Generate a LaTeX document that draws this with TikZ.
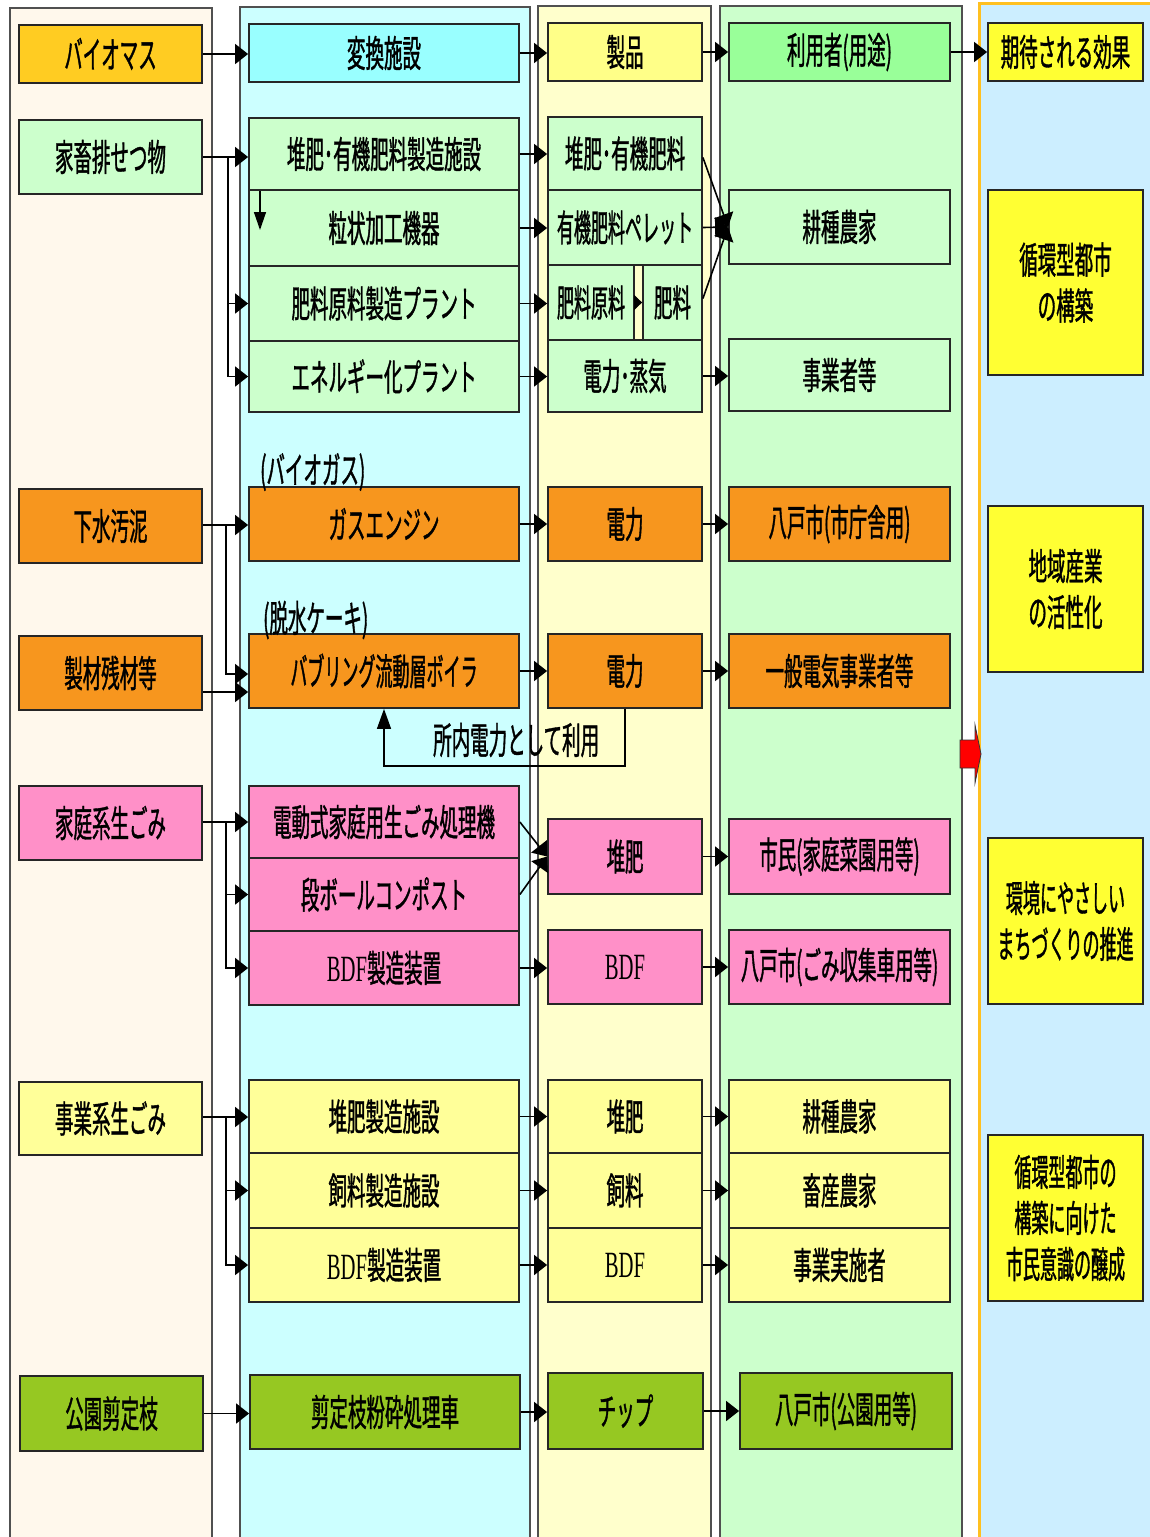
\documentclass[tikz,border=0pt]{standalone}
\usepackage{fontspec}
\newfontfamily\jp[FakeStretch=0.5,FakeBold=1]{Noto Sans CJK JP}
\newfontfamily\jpc[FakeStretch=0.46,FakeBold=1]{Noto Sans CJK JP}
\newfontfamily\bdf[FakeStretch=0.56]{Liberation Serif}
\usetikzlibrary{arrows.meta}
\definecolor{colA}{HTML}{FFF8EC}
\definecolor{colB}{HTML}{CCFFFF}
\definecolor{colC}{HTML}{FFFFCC}
\definecolor{colD}{HTML}{CCFFCC}
\definecolor{colE}{HTML}{CCEEFF}
\definecolor{edgeO}{HTML}{FFC020}
\definecolor{fBio}{HTML}{FFCC22}
\definecolor{fConv}{HTML}{99FFFF}
\definecolor{fProd}{HTML}{FFFF88}
\definecolor{fUser}{HTML}{99FF99}
\definecolor{fEff}{HTML}{FFFF33}
\definecolor{fLg}{HTML}{CCFFCC}
\definecolor{fOr}{HTML}{F7961E}
\definecolor{fPk}{HTML}{FF90C8}
\definecolor{fLy}{HTML}{FFFF99}
\definecolor{fPark}{HTML}{96C822}
\definecolor{colLine}{HTML}{505050}
\newcommand\bx[7]{\node[box,fill=#2,minimum width={(#5-#3)*1pt},minimum height={(#6-#4)*1pt}] (#1) at ({(#3+#5)/2},{(#4+#6)/2}) {#7};}
\begin{document}
\begin{tikzpicture}[x=1pt,y=-1pt,
  box/.style={draw=black!85,line width=1.8pt,inner sep=0pt,align=center,text=black,font=\jp\fontsize{37}{46}\selectfont},
  lbl/.style={inner sep=0pt,anchor=west,text=black,font=\jp\fontsize{37}{46}\selectfont},
  arr/.style={draw=black,line width=1.6pt,-{Triangle[length=13pt,width=20pt]}},
  arrs/.style={draw=black,line width=1.2pt,-{Triangle[length=8pt,width=15pt]}},
  darr/.style={draw=black,line width=1.4pt,-{Triangle[length=18pt,width=12pt]}},
  fb/.style={draw=black,line width=1.4pt,-{Triangle[length=20pt,width=14pt]}},
  colbg/.style={line width=1.4pt,draw=colLine}]
\useasboundingbox (0,0) rectangle (1150,1537);
\fill[white] (0,0) rectangle (1150,1537);
% column backgrounds
\fill[colA] (10,8) rectangle (212,1537);
\draw[colbg] (10,1537) -- (10,8) -- (212,8) -- (212,1537);
\fill[colB] (240,7) rectangle (530,1537);
\draw[colbg] (240,1537) -- (240,7) -- (530,7) -- (530,1537);
\fill[colC] (538,6) rectangle (711,1537);
\draw[colbg] (538,1537) -- (538,6) -- (711,6) -- (711,1537);
\fill[colD] (720,6) rectangle (962,1537);
\draw[colbg] (720,1537) -- (720,6) -- (962,6) -- (962,1537);
\fill[colE] (979,3) rectangle (1150,1537);
\draw[edgeO,line width=3pt] (979,1537) -- (979,3) -- (1150,3);
% header row
\bx{hB}{fBio}{19}{25}{202}{83}{バイオマス}
\bx{hC}{fConv}{249}{24}{519}{82}{変換施設}
\bx{hP}{fProd}{548}{23}{702}{81}{製品}
\bx{hU}{fUser}{729}{23}{950}{81}{利用者(用途)}
\bx{hE}{fEff}{988}{23}{1143}{81}{期待される効果}
% livestock
\bx{a1}{fLg}{19}{120}{202}{194}{家畜排せつ物}
\bx{c1}{fLg}{249}{118}{519}{190}{堆肥･有機肥料製造施設}
\bx{c2}{fLg}{249}{190}{519}{266}{粒状加工機器}
\bx{c3}{fLg}{249}{266}{519}{341}{肥料原料製造プラント}
\bx{c4}{fLg}{249}{341}{519}{412}{エネルギー化プラント}
\bx{p1}{fLg}{548}{117}{702}{190}{堆肥･有機肥料}
\bx{p2}{fLg}{548}{190}{702}{265}{\jpc 有機肥料ペレット}
\bx{p3a}{fLg}{548}{265}{634}{340}{\jpc 肥料原料}
\bx{p3b}{fLg}{643}{265}{702}{340}{肥料}
\bx{p4}{fLg}{548}{340}{702}{412}{電力･蒸気}
\bx{u1}{fLg}{729}{190}{950}{264}{耕種農家}
\bx{u2}{fLg}{729}{339}{950}{411}{事業者等}
\bx{e1}{fEff}{988}{190}{1143}{375}{循環型都市\\の構築}
% sewage / lumber
\bx{a2}{fOr}{19}{489}{202}{563}{下水汚泥}
\bx{c5}{fOr}{249}{487}{519}{561}{ガスエンジン}
\bx{p5}{fOr}{548}{487}{702}{561}{電力}
\bx{u3}{fOr}{729}{487}{950}{561}{八戸市(市庁舎用)}
\bx{a3}{fOr}{19}{636}{202}{710}{製材残材等}
\bx{c6}{fOr}{249}{634}{519}{708}{\jpc バブリング流動層ボイラ}
\bx{p6}{fOr}{548}{634}{702}{708}{電力}
\bx{u4}{fOr}{729}{634}{950}{708}{一般電気事業者等}
\bx{e2}{fEff}{988}{506}{1143}{672}{地域産業\\の活性化}
\node[lbl] (lbBio) at (260,472) {(バイオガス)};
\node[lbl] (lbCake) at (263,620) {(脱水ケーキ)};
\node[lbl] (lbOwn) at (433,740) {所内電力として利用};
% household
\bx{a4}{fPk}{19}{786}{202}{860}{家庭系生ごみ}
\bx{c7}{fPk}{249}{786}{519}{858}{電動式家庭用生ごみ処理機}
\bx{c8}{fPk}{249}{858}{519}{931}{段ボールコンポスト}
\bx{c9}{fPk}{249}{931}{519}{1005}{{\bdf BDF}製造装置}
\bx{p7}{fPk}{548}{819}{702}{894}{堆肥}
\bx{p8}{fPk}{548}{930}{702}{1004}{{\bdf BDF}}
\bx{u5}{fPk}{729}{819}{950}{894}{市民(家庭菜園用等)}
\bx{u6}{fPk}{729}{930}{950}{1004}{八戸市(ごみ収集車用等)}
\bx{e3}{fEff}{988}{838}{1143}{1004}{\jpc 環境にやさしい\\\jpc まちづくりの推進}
% business
\bx{a5}{fLy}{19}{1082}{202}{1155}{事業系生ごみ}
\bx{c10}{fLy}{249}{1080}{519}{1153}{堆肥製造施設}
\bx{c11}{fLy}{249}{1153}{519}{1228}{飼料製造施設}
\bx{c12}{fLy}{249}{1228}{519}{1302}{{\bdf BDF}製造装置}
\bx{p9}{fLy}{548}{1080}{702}{1153}{堆肥}
\bx{p10}{fLy}{548}{1153}{702}{1228}{飼料}
\bx{p11}{fLy}{548}{1228}{702}{1302}{{\bdf BDF}}
\bx{u7}{fLy}{729}{1080}{950}{1153}{耕種農家}
\bx{u8}{fLy}{729}{1153}{950}{1228}{畜産農家}
\bx{u9}{fLy}{729}{1228}{950}{1302}{事業実施者}
\bx{e4}{fEff}{988}{1135}{1143}{1301}{\jpc 循環型都市の\\\jpc 構築に向けた\\\jpc 市民意識の醸成}
% park
\bx{a6}{fPark}{20}{1376}{203}{1451}{公園剪定枝}
\bx{c13}{fPark}{250}{1375}{520}{1449}{剪定枝粉砕処理車}
\bx{p12}{fPark}{548}{1373}{703}{1449}{チップ}
\bx{u10}{fPark}{740}{1373}{952}{1449}{八戸市(公園用等)}
% header arrows
\draw[arr] (hB.east) -- (hB.east -| hC.west);
\draw[arr] (hC.east) -- (hC.east -| hP.west);
\draw[arr] (hP.east) -- (hP.east -| hU.west);
\draw[arr] (hU.east) -- (hU.east -| hE.west);
% livestock arrows
\coordinate (j1) at (228,157);
\draw[arr] (a1.east |- j1) -- (j1 -| c1.west);
\draw[arr] (j1) |- (c3.west);
\draw[arr] (j1) |- (c4.west);
\coordinate (d1) at (260,191);
\coordinate (d2) at (260,230);
\draw[darr] (d1) -- (d2);
\draw[arr] (c1.east) -- (c1.east -| p1.west);
\draw[arr] (c2.east) -- (c2.east -| p2.west);
\draw[arr] (c3.east) -- (c3.east -| p3a.west);
\draw[arr] (c4.east) -- (c4.east -| p4.west);
\draw[arrs] (p3a.east) -- (p3b.west);
\draw[arr] ([yshift=-4pt]p1.east) -- (u1.west);
\draw[arr] (p2.east) -- (u1.west);
\draw[arr] ([yshift=4pt]p3b.east) -- (u1.west);
\draw[arr] (p4.east) -- (p4.east -| u2.west);
% sewage arrows
\coordinate (j2) at (226,525);
\draw[arr] (a2.east |- j2) -- (j2 -| c5.west);
\draw[arr] (j2) |- ([yshift=-3pt]c6.west);
\draw[arr] ([yshift=-19pt]a3.east) -- ([yshift=-21pt]c6.west);
\draw[arr] (c5.east) -- (c5.east -| p5.west);
\draw[arr] (p5.east) -- (p5.east -| u3.west);
\draw[arr] (c6.east) -- (c6.east -| p6.west);
\draw[arr] (p6.east) -- (p6.east -| u4.west);
\draw[fb] (p6.south) -- ++(0,57) -| (c6.south);
% household arrows
\coordinate (j3) at (226,822);
\draw[arr] (a4.east |- j3) -- (j3 -| c7.west);
\draw[arr] (j3) |- (c8.west);
\draw[arr] (j3) |- (c9.west);
\draw[arr] (c7.east) -- (p7.west);
\draw[arr] (c8.east) -- (p7.west);
\draw[arr] (c9.east) -- (c9.east -| p8.west);
\draw[arr] (p7.east) -- (p7.east -| u5.west);
\draw[arr] (p8.east) -- (p8.east -| u6.west);
% business arrows
\coordinate (j4) at (226,1117);
\draw[arr] (a5.east |- j4) -- (j4 -| c10.west);
\draw[arr] (j4) |- (c11.west);
\draw[arr] (j4) |- (c12.west);
\draw[arr] (c10.east) -- (c10.east -| p9.west);
\draw[arr] (c11.east) -- (c11.east -| p10.west);
\draw[arr] (c12.east) -- (c12.east -| p11.west);
\draw[arr] (p9.east) -- (p9.east -| u7.west);
\draw[arr] (p10.east) -- (p10.east -| u8.west);
\draw[arr] (p11.east) -- (p11.east -| u9.west);
% park arrows
\draw[arr] (a6.east) -- (a6.east -| c13.west);
\draw[arr] (c13.east) -- (c13.east -| p12.west);
\draw[arr] (p12.east) -- (p12.east -| u10.west);
% big red arrow
\draw[fill=red,draw=black!80,line width=0.8pt] (960,740) -- (975,740) -- (975,725) -- (981,754) -- (975,783) -- (975,768) -- (960,768) -- cycle;
\end{tikzpicture}
\end{document}
